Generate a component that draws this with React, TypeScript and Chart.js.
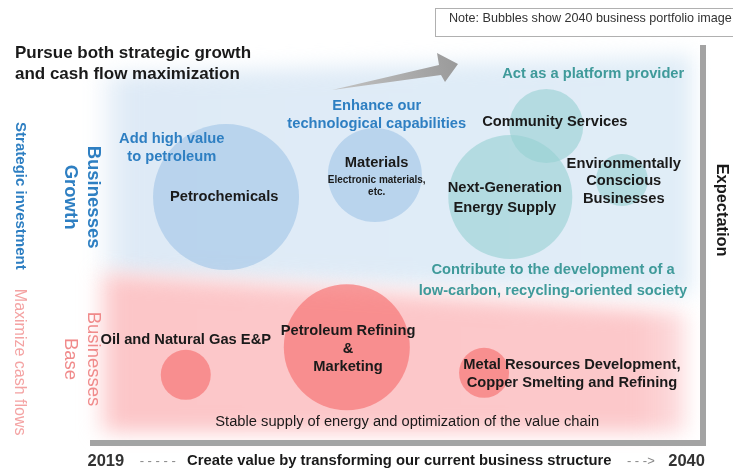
import React, { useEffect, useRef } from "react";
import { Chart, registerables } from "chart.js";

Chart.register(...registerables);

// ---- Data ----
const bubbleNames = [
  "Petrochemicals",
  "Materials",
  "Community Services",
  "Next-Generation Energy Supply",
  "Environmentally Conscious Businesses",
  "Oil and Natural Gas E&P",
  "Petroleum Refining & Marketing",
  "Metal Resources Development",
];
const bubbleX = [22.3, 46.7, 74.8, 68.9, 87.2, 15.7, 42.1, 64.6];
const bubbleY = [61.5, 67.1, 79.5, 61.5, 65.8, 16.5, 23.5, 17.0];
const bubbleR = [73, 47, 37, 62, 26, 25, 63, 25];
const bubbleGroup = ["growth", "growth", "platform", "platform", "platform", "base", "base", "base"];

const groupColors: Record<string, string> = {
  growth: "rgba(170,202,233,0.72)",
  platform: "rgba(150,208,210,0.6)",
  base: "rgba(247,120,120,0.72)",
};

// Text annotations (in data units)
type Note = {
  lines: string[];
  x: number;
  y: number;
  color: string;
  size: number;
  bold?: boolean;
  lh?: number;
  align?: CanvasTextAlign;
  rotate?: boolean;
};

const BLUE = "#2e7fc2";
const TEAL = "#3f9a9a";
const DARK = "#1a1a1a";
const PINK = "#f08a8a";

const notes: Note[] = [
  { lines: ["Pursue both strategic growth", "and cash flow maximization"], x: -12.3, y: 97.8, color: DARK, size: 17, bold: true, lh: 21, align: "left" },
  { lines: ["Enhance our", "technological capabilities"], x: 47.0, y: 84.6, color: BLUE, size: 14.7, bold: true, lh: 18 },
  { lines: ["Add high value", "to petroleum"], x: 13.4, y: 76.3, color: BLUE, size: 14.7, bold: true, lh: 18 },
  { lines: ["Act as a platform provider"], x: 82.5, y: 92.7, color: TEAL, size: 14.7, bold: true },
  { lines: ["Community Services"], x: 76.2, y: 80.5, color: DARK, size: 14.7, bold: true },
  { lines: ["Petrochemicals"], x: 22.0, y: 61.5, color: DARK, size: 14.7, bold: true },
  { lines: ["Materials"], x: 47.0, y: 70.2, color: DARK, size: 14.7, bold: true },
  { lines: ["Electronic materials,", "etc."], x: 47.0, y: 65.8, color: DARK, size: 10, bold: true, lh: 12 },
  { lines: ["Next-Generation", "Energy Supply"], x: 68.0, y: 63.8, color: DARK, size: 14.7, bold: true, lh: 20 },
  { lines: ["Environmentally", "Conscious", "Businesses"], x: 87.5, y: 69.9, color: DARK, size: 14.7, bold: true, lh: 17.5 },
  { lines: ["Contribute to the development of a", "low-carbon, recycling-oriented society"], x: 75.9, y: 43.0, color: TEAL, size: 14.7, bold: true, lh: 21 },
  { lines: ["Oil and Natural Gas E&P"], x: 15.7, y: 25.4, color: DARK, size: 14.7, bold: true },
  { lines: ["Petroleum Refining", "&", "Marketing"], x: 42.3, y: 27.6, color: DARK, size: 14.7, bold: true, lh: 18 },
  { lines: ["Metal Resources Development,", "Copper Smelting and Refining"], x: 79.0, y: 19.0, color: DARK, size: 14.7, bold: true, lh: 17.5 },
  { lines: ["Stable supply of energy and optimization of the value chain"], x: 52.0, y: 4.6, color: DARK, size: 14.7 },
  { lines: ["2019"], x: 2.6, y: -5.4, color: "#333", size: 16.5, bold: true },
  { lines: ["- - - - -"], x: 11.1, y: -5.4, color: "#888", size: 13 },
  { lines: ["Create value by transforming our current business structure"], x: 50.7, y: -5.4, color: DARK, size: 14.8, bold: true },
  { lines: ["- - ->"], x: 90.3, y: -5.4, color: "#888", size: 13 },
  { lines: ["2040"], x: 97.8, y: -5.4, color: "#333", size: 16.5, bold: true },
  { lines: ["Expectation"], x: 103.6, y: 58.2, color: DARK, size: 16.4, bold: true, rotate: true },
  { lines: ["Growth", "Businesses"], x: -3.3, y: 61.5, color: BLUE, size: 18.5, bold: true, lh: 23, rotate: true },
  { lines: ["Strategic investment"], x: -11.5, y: 61.8, color: BLUE, size: 15, bold: true, rotate: true },
  { lines: ["Base", "Businesses"], x: -3.3, y: 20.5, color: PINK, size: 18.5, lh: 23, rotate: true },
  { lines: ["Maximize cash flows"], x: -11.5, y: 19.7, color: "#f4a3a3", size: 16, rotate: true },
];

const FONT = "'Liberation Sans', Arial, sans-serif";

const decorPlugin = {
  id: "decor",
  beforeDatasetsDraw(chart: any) {
    const { ctx, chartArea: a } = chart;
    ctx.save();
    // blue band
    ctx.filter = "blur(10px)";
    let g = ctx.createLinearGradient(a.left, 0, a.right, 0);
    g.addColorStop(0, "rgba(222,234,246,0)");
    g.addColorStop(0.06, "rgba(222,234,246,1)");
    g.addColorStop(1, "rgba(224,237,247,1)");
    ctx.fillStyle = g;
    ctx.beginPath();
    ctx.moveTo(a.left + 10, a.top + 30);
    ctx.lineTo(a.right - 8, a.top + 10);
    ctx.lineTo(a.right - 8, a.top + 250);
    ctx.lineTo(a.left + 10, a.top + 230);
    ctx.closePath();
    ctx.fill();
    // red band
    g = ctx.createLinearGradient(a.left, 0, a.right, 0);
    g.addColorStop(0, "rgba(252,200,202,0)");
    g.addColorStop(0.04, "rgba(252,198,200,1)");
    g.addColorStop(0.9, "rgba(252,200,202,1)");
    g.addColorStop(1, "rgba(252,210,212,0.6)");
    ctx.fillStyle = g;
    ctx.beginPath();
    ctx.moveTo(a.left + 8, a.top + 228);
    ctx.lineTo(a.right - 15, a.top + 268);
    ctx.lineTo(a.right - 15, a.bottom - 8);
    ctx.lineTo(a.left + 8, a.bottom - 8);
    ctx.closePath();
    ctx.fill();
    ctx.filter = "none";
    // axes bars
    ctx.fillStyle = "#a3a3a3";
    ctx.fillRect(a.left, a.bottom, a.right - a.left + 6, 6);
    ctx.fillRect(a.right, a.top, 6, a.bottom - a.top + 6);
    // arrow
    const ag = ctx.createLinearGradient(332, 90, 458, 64);
    ag.addColorStop(0, "#c4c4c4");
    ag.addColorStop(1, "#9a9a9a");
    ctx.fillStyle = ag;
    ctx.beginPath();
    ctx.moveTo(332, 90);
    ctx.lineTo(439, 65);
    ctx.lineTo(437, 53);
    ctx.lineTo(458, 64);
    ctx.lineTo(445, 82);
    ctx.lineTo(441, 75);
    ctx.closePath();
    ctx.fill();
    ctx.restore();
  },
  afterDatasetsDraw(chart: any) {
    const { ctx } = chart;
    const xs = chart.scales.x;
    const ys = chart.scales.y;
    ctx.save();
    // note box
    ctx.fillStyle = "#fff";
    ctx.strokeStyle = "#b0b0b0";
    ctx.lineWidth = 1;
    ctx.fillRect(435.5, 8.5, 310, 28);
    ctx.strokeRect(435.5, 8.5, 310, 28);
    ctx.fillStyle = "#333";
    ctx.font = `12.6px ${FONT}`;
    ctx.textAlign = "left";
    ctx.textBaseline = "middle";
    ctx.fillText("Note: Bubbles show 2040 business portfolio image", 449, 19);

    for (const n of notes) {
      const px = xs.getPixelForValue(n.x);
      const py = ys.getPixelForValue(n.y);
      const lh = n.lh ?? n.size * 1.2;
      ctx.font = `${n.bold ? "bold " : ""}${n.size}px ${FONT}`;
      ctx.fillStyle = n.color;
      ctx.textBaseline = "middle";
      ctx.textAlign = n.align ?? "center";
      if (n.rotate) {
        ctx.save();
        ctx.translate(px, py);
        ctx.rotate(Math.PI / 2);
        n.lines.forEach((t, i) => ctx.fillText(t, 0, -i * lh));
        ctx.restore();
      } else {
        n.lines.forEach((t, i) => ctx.fillText(t, px, py + i * lh));
      }
    }
    ctx.restore();
  },
};

export default function App() {
  const ref = useRef<HTMLCanvasElement>(null);
  useEffect(() => {
    if (!ref.current) return;
    const chart = new Chart(ref.current, {
      type: "bubble",
      data: {
        datasets: [
          {
            label: "Businesses",
            data: bubbleNames.map((_, i) => ({ x: bubbleX[i], y: bubbleY[i], r: bubbleR[i] })),
            backgroundColor: bubbleGroup.map((g) => groupColors[g]),
            borderWidth: 0,
            hoverRadius: 0,
            clip: false,
          },
        ],
      },
      options: {
        animation: false,
        responsive: false,
        maintainAspectRatio: false,
        layout: { autoPadding: false, padding: { left: 90, right: 33, top: 45, bottom: 29 } },
        plugins: { legend: { display: false }, tooltip: { enabled: false } },
        scales: {
          x: { type: "linear", min: 0, max: 100, display: false },
          y: { type: "linear", min: 0, max: 100, display: false },
        },
      },
      plugins: [decorPlugin],
    });
    return () => chart.destroy();
  }, []);
  return (
    <div style={{ position: "fixed", left: 0, top: 0, width: 733, height: 469, background: "#fff" }}>
      <canvas ref={ref} width={733} height={469} style={{ display: "block" }} />
    </div>
  );
}
